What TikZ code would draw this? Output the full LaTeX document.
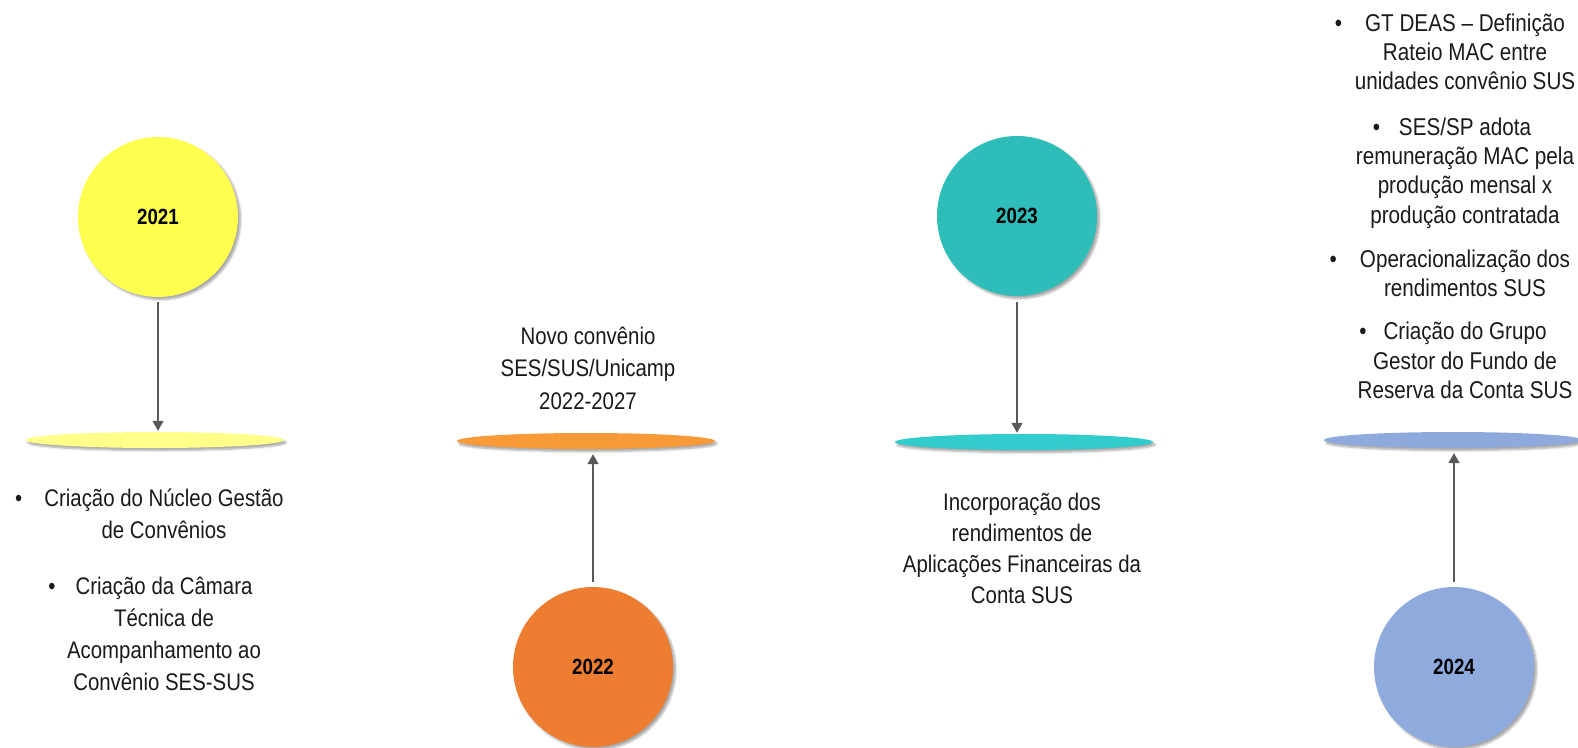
\documentclass[tikz,border=0pt]{standalone}
\usepackage{fontspec}
\setmainfont{Liberation Sans}[FakeStretch=0.85]
\usetikzlibrary{shapes.geometric,arrows.meta,shadows.blur}
\definecolor{cyel}{HTML}{FFFF4F}
\definecolor{eyel}{HTML}{FFFF8A}
\definecolor{cora}{HTML}{ED7D31}
\definecolor{eora}{HTML}{F99A38}
\definecolor{cteal}{HTML}{2FBDBA}
\definecolor{eteal}{HTML}{33CCCC}
\definecolor{cblue}{HTML}{8FAADC}
\definecolor{eblue}{HTML}{8EAADC}
\definecolor{arrgray}{HTML}{595959}
\definecolor{txtc}{HTML}{1A1A1A}
\begin{document}
\begin{tikzpicture}[x=1pt,y=-1pt,
  year/.style={circle,minimum size=160pt,inner sep=0pt,
    font=\fontsize{22}{26}\selectfont\bfseries,text=black,
    blur shadow={shadow xshift=2.5pt,shadow yshift=-2.5pt,shadow blur steps=6,shadow opacity=35}},
  disc/.style={ellipse,minimum width=258pt,minimum height=16pt,inner sep=0pt,
    blur shadow={shadow xshift=2pt,shadow yshift=-2.5pt,shadow blur steps=5,shadow opacity=35}},
  conn/.style={draw=arrgray,line width=1.3pt,-{Triangle[width=11pt,length=10pt]},fill=arrgray},
  txt/.style={align=center,inner sep=0pt,text=txtc,
    execute at begin node=\strut,execute at end node=\strut}
]
\useasboundingbox (0,0) rectangle (1578,747);

% circles and discs
\node[year,fill=cyel] (c1) at (158,217) {2021};
\node[disc,fill=eyel] (e1) at (155,440) {};
\node[year,fill=cora] (c2) at (593,667) {2022};
\node[disc,fill=eora] (e2) at (586,441) {};
\node[year,fill=cteal] (c3) at (1017,216) {2023};
\node[disc,fill=eteal] (e3) at (1024,442) {};
\node[year,fill=cblue] (c4) at (1454,667) {2024};
\node[disc,fill=eblue] (e4) at (1453,440) {};

% connectors
\draw[conn,shorten <=5pt,shorten >=1pt] (c1.south) -- (c1.south |- e1.north);
\draw[conn,shorten <=5pt,shorten >=5pt] (c2.north) -- (c2.north |- e2.south);
\draw[conn,shorten <=6pt,shorten >=1pt] (c3.south) -- (c3.south |- e3.north);
\draw[conn,shorten <=5pt,shorten >=5pt] (c4.north) -- (c4.north |- e4.south);

% texts
\node[txt,font=\fontsize{24}{32}\selectfont] (t1) at (164,594.5)
  {\llap{•\hspace{22pt}}Criação do Núcleo Gestão\\ de Convênios\\[24pt]
   \llap{•\hspace{20pt}}Criação da Câmara\\ Técnica de\\ Acompanhamento ao\\ Convênio SES-SUS};
\node[txt,font=\fontsize{24}{32.5}\selectfont] (t2) at (588,373)
  {Novo convênio\\ SES/SUS/Unicamp\\ 2022-2027};
\node[txt,font=\fontsize{24}{31.3}\selectfont] (t3) at (1022,553)
  {Incorporação dos\\ rendimentos de\\ Aplicações Financeiras da\\ Conta SUS};
\node[txt,font=\fontsize{24.3}{29.3}\selectfont] (t4) at (1465,210.5)
  {\llap{•\hspace{23pt}}GT DEAS – Definição\\ Rateio MAC entre\\ unidades convênio SUS\\[16pt]
   \llap{•\hspace{19pt}}SES/SP adota\\ remuneração MAC pela\\ produção mensal x\\ produção contratada\\[15pt]
   \llap{•\hspace{23pt}}Operacionalização dos\\ rendimentos SUS\\[14pt]
   \llap{•\hspace{17pt}}Criação do Grupo\\ Gestor do Fundo de\\ Reserva da Conta SUS};
\end{tikzpicture}
\end{document}
